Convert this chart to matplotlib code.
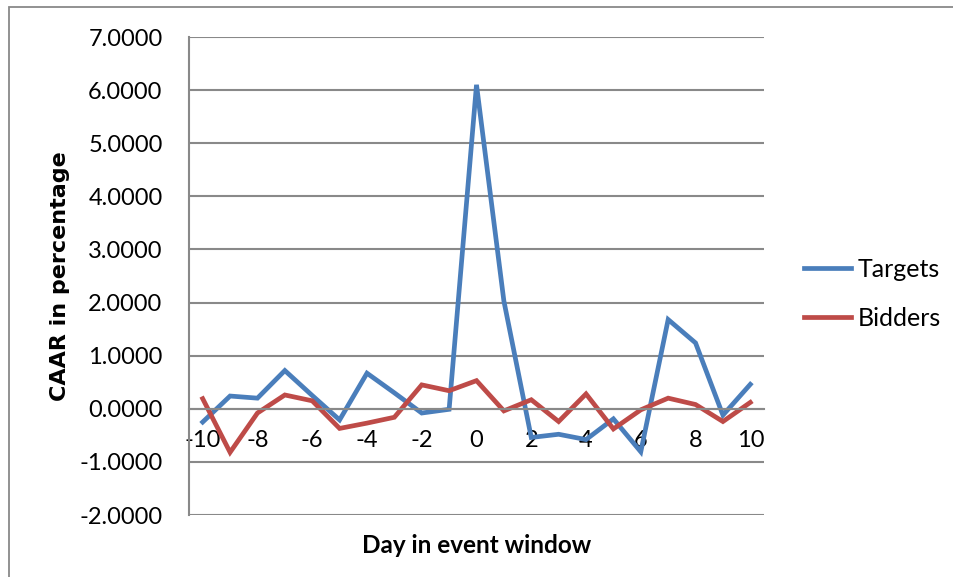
import numpy as np
import matplotlib.pyplot as plt
from matplotlib.patches import Rectangle

# CAAR by day in the event window
days = list(range(-10, 11))
targets = [-0.25, 0.24, 0.20, 0.72, 0.25, -0.21, 0.67, 0.30, -0.08, -0.01, 6.10,
           2.03, -0.54, -0.48, -0.58, -0.19, -0.81, 1.68, 1.24, -0.12, 0.46]
bidders = [0.19, -0.82, -0.08, 0.26, 0.15, -0.37, -0.27, -0.16, 0.45, 0.34, 0.53,
           -0.04, 0.17, -0.24, 0.28, -0.38, -0.02, 0.20, 0.08, -0.24, 0.12]
y_ticks = np.arange(-2, 8, 1)

plt.rcParams['font.family'] = ['Lato', 'DejaVu Sans']
grey = '#898989'

fig = plt.figure(figsize=(9.54, 5.77), dpi=100)
ax = fig.add_axes([189 / 954, 1 - 515 / 577, 575 / 954, 478 / 577])

# outer chart border
fig.patches.append(Rectangle((9 / 954, -0.1), 1.2, 1 - 7 / 577 + 0.1,
                             transform=fig.transFigure, fill=False,
                             edgecolor=grey, linewidth=1.3))

ax.plot(days, targets, color='#4A7EBB', linewidth=3.4, label='Targets',
        solid_joinstyle='miter')
ax.plot(days, bidders, color='#BE4B48', linewidth=3.4, label='Bidders',
        solid_joinstyle='miter')

ax.set_xlim(-10.5, 10.5)
ax.set_ylim(-2, 7)
ax.set_yticks(y_ticks)
ax.set_yticklabels([f"{v:.4f}" for v in y_ticks])
ax.set_xticks(days[::2])
ax.set_xticklabels([str(d) for d in days[::2]])

ax.grid(axis='y', color=grey, linewidth=1.5)
ax.set_axisbelow(True)
for s in ['top', 'right']:
    ax.spines[s].set_visible(False)
ax.spines['left'].set_color(grey)
ax.spines['left'].set_linewidth(1.5)
ax.spines['bottom'].set_position(('data', 0))
ax.spines['bottom'].set_color(grey)
ax.spines['bottom'].set_linewidth(1.5)
ax.tick_params(axis='y', length=0, pad=19, labelsize=17)
ax.tick_params(axis='x', length=0, pad=15, labelsize=17)

ax.set_ylabel("CAAR in percentage", fontsize=16, fontweight='bold',
              family='DejaVu Sans', labelpad=7)
ax.text(0.5, -0.04, "Day in event window", transform=ax.transAxes,
        ha='center', va='top', fontsize=17.5, fontweight='bold')

ax.legend(loc='center left', bbox_to_anchor=(1.03, 0.463), frameon=False,
          fontsize=18, handlelength=1.9, handletextpad=0.25, labelspacing=1.05)

fig.savefig("out.png", dpi=100)
